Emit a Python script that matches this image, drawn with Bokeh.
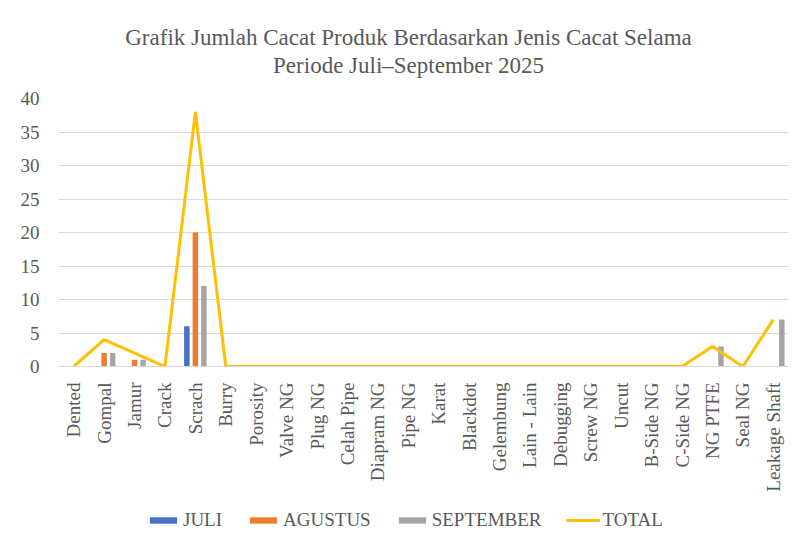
import math
from bokeh.plotting import figure
from bokeh.layouts import column
from bokeh.models import (ColumnDataSource, Legend, LegendItem, FactorRange, Label,
                          Range1d)
from bokeh.transform import dodge
from bokeh.embed import file_html
from bokeh.resources import INLINE

categories = ["Dented", "Gompal", "Jamur", "Crack", "Scrach", "Burry", "Porosity",
              "Valve NG", "Plug NG", "Celah Pipe", "Diapram NG", "Pipe NG", "Karat",
              "Blackdot", "Gelembung", "Lain - Lain", "Debugging", "Screw NG", "Uncut",
              "B-Side NG", "C-Side NG", "NG PTFE", "Seal NG", "Leakage Shaft"]
juli = [0, 0, 0, 0, 6, 0, 0, 0, 0, 0, 0, 0, 0, 0, 0, 0, 0, 0, 0, 0, 0, 0, 0, 0]
agustus = [0, 2, 1, 0, 20, 0, 0, 0, 0, 0, 0, 0, 0, 0, 0, 0, 0, 0, 0, 0, 0, 0, 0, 0]
september = [0, 2, 1, 0, 12, 0, 0, 0, 0, 0, 0, 0, 0, 0, 0, 0, 0, 0, 0, 0, 0, 3, 0, 7]
total = [0, 4, 2, 0, 38, 0, 0, 0, 0, 0, 0, 0, 0, 0, 0, 0, 0, 0, 0, 0, 0, 3, 0, 7]
series_names = ["JULI", "AGUSTUS", "SEPTEMBER", "TOTAL"]
y_ticks = [0, 5, 10, 15, 20, 25, 30, 35, 40]
title_lines = ["Grafik Jumlah Cacat Produk Berdasarkan Jenis Cacat Selama",
               "Periode Juli\u2013September 2025"]

FONT = "Liberation Serif"
TXT = "#595959"
COLORS = ["#4472C4", "#ED7D31", "#A5A5A5", "#FFC000"]
W = 792
LB, RB = 58, 4          # left / right borders shared by all strips
FX0, FX1 = LB, W - RB   # frame extent in page pixels

# ---------- title strip ----------
head = figure(width=W, height=80, x_range=Range1d(FX0, FX1), y_range=Range1d(0, 80),
              output_backend="svg", toolbar_location=None,
              min_border_left=LB, min_border_right=RB, min_border_top=0, min_border_bottom=0)
head.axis.visible = False
head.grid.grid_line_color = None
head.outline_line_color = None
for txt, yy in zip(title_lines, [43, 15]):
    head.add_layout(Label(x=408, y=yy, text=txt, text_align="center", text_baseline="middle",
                          text_font=FONT, text_font_size="23px", text_color=TXT))

# ---------- main chart ----------
src = ColumnDataSource(dict(cat=categories, juli=juli, agustus=agustus,
                            september=september, total=total))

p = figure(x_range=FactorRange(*categories), y_range=(0, 40),
           width=W, height=425,
           output_backend="svg", toolbar_location=None,
           min_border_left=LB, min_border_right=RB, min_border_top=18, min_border_bottom=139)

w = 0.18
p.vbar(x=dodge("cat", -0.28, range=p.x_range), top="juli", width=w, source=src,
       fill_color=COLORS[0], line_color=None)
p.vbar(x=dodge("cat", 0.0, range=p.x_range), top="agustus", width=w, source=src,
       fill_color=COLORS[1], line_color=None)
p.vbar(x=dodge("cat", 0.28, range=p.x_range), top="september", width=w, source=src,
       fill_color=COLORS[2], line_color=None)
p.line(x="cat", y="total", source=src, line_color=COLORS[3], line_width=3)

p.yaxis.ticker = y_ticks
p.ygrid.grid_line_color = "#d9d9d9"
p.xgrid.grid_line_color = None
p.yaxis.axis_line_color = None
p.yaxis.major_tick_line_color = None
p.yaxis.minor_tick_line_color = None
p.yaxis.major_label_text_font = FONT
p.yaxis.major_label_text_font_size = "19px"
p.yaxis.major_label_text_color = TXT
p.yaxis.major_label_standoff = 13

p.xaxis.axis_line_color = "#d9d9d9"
p.xaxis.major_tick_line_color = None
p.xaxis.minor_tick_line_color = None
p.xaxis.major_label_orientation = math.pi / 2
p.xaxis.major_label_text_font = FONT
p.xaxis.major_label_text_font_size = "19px"
p.xaxis.major_label_text_color = TXT
p.xaxis.major_label_standoff = 10
p.x_range.range_padding = 0
p.outline_line_color = None

# ---------- legend strip ----------
leg = figure(width=W, height=32, x_range=Range1d(0, 1), y_range=Range1d(0, 1),
             output_backend="svg", toolbar_location=None,
             min_border_left=LB, min_border_right=RB, min_border_top=0, min_border_bottom=0)
leg.axis.visible = False
leg.grid.grid_line_color = None
leg.outline_line_color = None
# proxy renderers, kept outside the visible range; used only for legend swatches
proxy = ColumnDataSource(dict(x=[-5], y=[-5]))
rs = [leg.vbar(x="x", top="y", width=0.1, source=proxy, fill_color=c, line_color=None)
      for c in COLORS[:3]]
rs.append(leg.line(x="x", y="y", source=proxy, line_color=COLORS[3], line_width=3))
legend = Legend(items=[LegendItem(label=n, renderers=[r]) for n, r in zip(series_names, rs)],
                orientation="horizontal", location=(88, 6),
                label_text_font=FONT, label_text_font_size="19px", label_text_color=TXT,
                glyph_width=34, glyph_height=8, spacing=24, border_line_color=None,
                background_fill_alpha=0, padding=2, margin=0, label_standoff=3,
                label_height=20)
leg.add_layout(legend, "center")

layout = column(head, p, leg, spacing=0)
open("out.html", "w").write(file_html(layout, INLINE))
